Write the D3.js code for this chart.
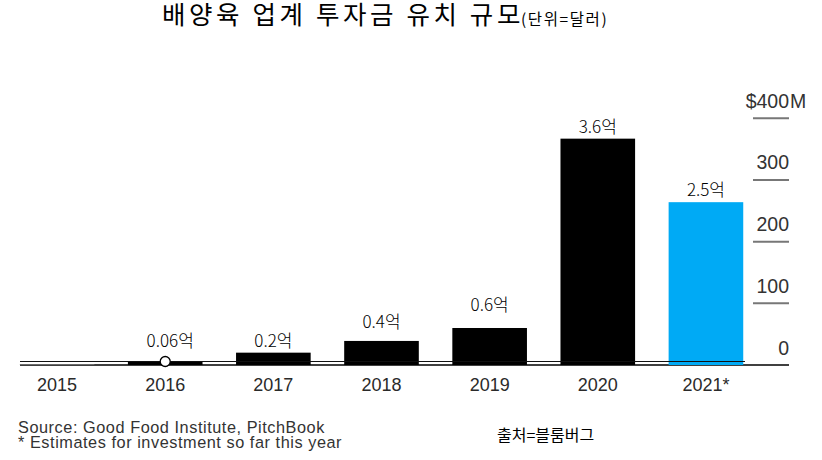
<!DOCTYPE html>
<html><head><meta charset="utf-8">
<script src="https://cdn.jsdelivr.net/npm/d3@7"></script>
<style>
body{margin:0;background:#fff;}
svg{display:block;}
</style></head>
<body>
<svg id="c" width="822" height="460"></svg>
<script>
const years = ["2015","2016","2017","2018","2019","2020","2021*"];
const values = [1, 6, 20, 39, 60, 367, 264];          // $M
const valueLabels = ["", "0.06억", "0.2억", "0.4억", "0.6억", "3.6억", "2.5억"];
const yTicks = [0, 100, 200, 300, 400];
const highlight = [false,false,false,false,false,false,true];

// layout (not data)
const labelLift = [0, 14, 6, 13, 17, 6, 6];
const labelShift = [0, 5, 0, 0, 0, 0, 0];

const svg = d3.select("#c");
const x = d3.scaleBand().domain(years).range([3, 760]).paddingInner(0.31).paddingOuter(0.155);
const y = d3.scaleLinear().domain([0, 400]).range([365, 118.3]);

// title
const t = svg.append("text").attr("x", 162).attr("y", 24)
  .attr("font-family", "'Noto Sans CJK KR', sans-serif").attr("fill", "#000");
t.append("tspan").attr("font-size", 25.5).attr("letter-spacing", 3.6).text("배양육 업계 투자금 유치 규모");
t.append("tspan").attr("font-size", 15.5).attr("letter-spacing", 1.6).attr("dx", -3).attr("dy", 1).text("(단위=달러)");

// y axis tick lines & labels (right side)
const tg = svg.append("g");
tg.selectAll("line").data(yTicks.slice(1)).join("line")
  .attr("x1", 753).attr("x2", 789)
  .attr("y1", d => y(d)).attr("y2", d => y(d))
  .attr("stroke", "#777").attr("stroke-width", 2);
const tickFont = "'Liberation Sans', Arial, sans-serif";
tg.selectAll("text.tl").data(yTicks).join("text").attr("class","tl")
  .attr("x", 789).attr("y", d => y(d) - 10.5)
  .attr("text-anchor", "end")
  .attr("font-family", tickFont)
  .attr("font-size", 19.5).attr("fill", "#333")
  .text(d => d);
const topTick = yTicks[yTicks.length-1];
tg.append("text").attr("x", 756.5).attr("y", y(topTick) - 10.5).attr("text-anchor","end")
  .attr("font-family", tickFont).attr("font-size", 19.5).attr("fill","#333").text("$");
tg.append("text").attr("x", 790).attr("y", y(topTick) - 10.5)
  .attr("font-family", tickFont).attr("font-size", 19.5).attr("fill","#333").text("M");

// zero line
svg.append("line").attr("x1", 20).attr("x2", 789).attr("y1", y(0)).attr("y2", y(0))
  .attr("stroke", "#000").attr("stroke-width", 1.6);

// bars
svg.append("g").selectAll("rect").data(years).join("rect")
  .attr("x", d => x(d)).attr("width", x.bandwidth())
  .attr("y", (d,i) => y(values[i])).attr("height", (d,i) => y(0) - y(values[i]))
  .attr("fill", (d,i) => highlight[i] ? "#00aaf5" : (values[i] < 2 ? "#888" : "#000"));

// upper axis line
svg.append("line").attr("x1", 20).attr("x2", 745).attr("y1", 361.5).attr("y2", 361.5)
  .attr("stroke", "#111").attr("stroke-width", 1);

// marker on 2016
svg.append("circle").attr("cx", x("2016") + x.bandwidth()/2).attr("cy", 361.5).attr("r", 5)
  .attr("fill", "#fff").attr("stroke", "#000").attr("stroke-width", 1.3);

// value labels
svg.append("g").selectAll("text").data(years).join("text")
  .attr("x", (d,i) => x(d) + x.bandwidth()/2 + labelShift[i])
  .attr("y", (d,i) => y(values[i]) - labelLift[i])
  .attr("text-anchor", "middle")
  .attr("font-family", "'Noto Sans CJK KR', sans-serif")
  .attr("font-weight", 300)
  .attr("font-size", 17).attr("fill", "#000")
  .text((d,i) => valueLabels[i]);

// x axis labels
const xa = svg.append("g").attr("transform", `translate(0,${y(0)})`)
  .call(d3.axisBottom(x).tickSize(0).tickPadding(0));
xa.select(".domain").remove();
xa.selectAll("text").attr("dy", 0).attr("y", 26)
  .attr("font-family", tickFont)
  .attr("font-size", 18).attr("fill", "#2a2a2a");

// footer
const f = svg.append("text").attr("font-family", tickFont)
  .attr("font-size", 16.3).attr("letter-spacing", 0.55).attr("fill", "#333");
f.append("tspan").attr("x", 18).attr("y", 433).text("Source: Good Food Institute, PitchBook");
f.append("tspan").attr("x", 18).attr("y", 447.5).text("* Estimates for investment so far this year");
svg.append("text").attr("x", 497).attr("y", 441)
  .attr("font-family", "'Noto Sans CJK KR', sans-serif").attr("font-size", 16).attr("fill", "#000")
  .text("출처=블룸버그");
</script>
</body></html>
